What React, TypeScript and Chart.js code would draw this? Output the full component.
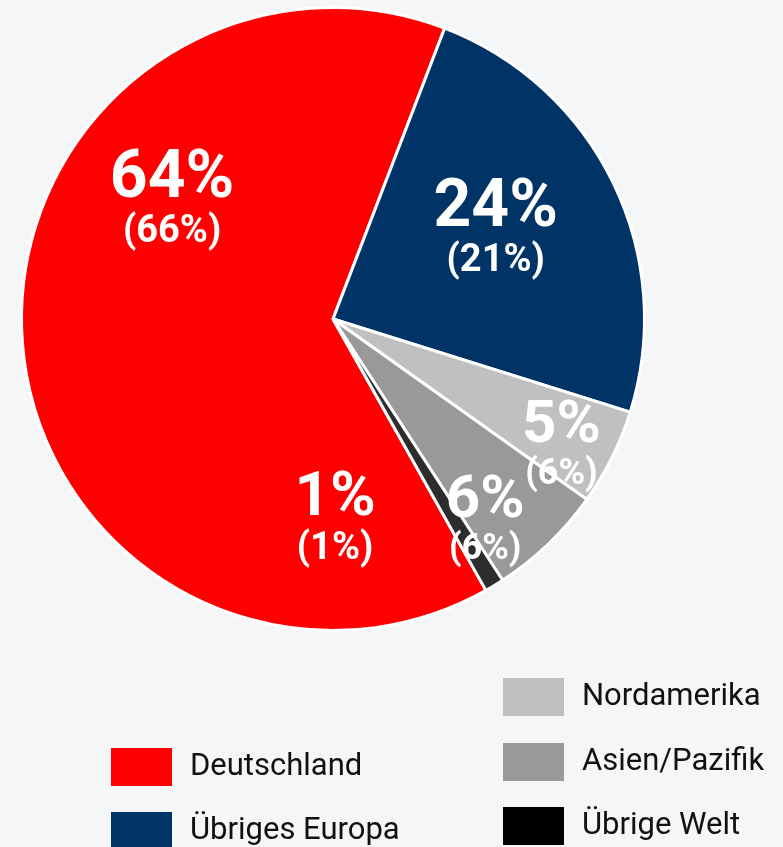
import React, { useEffect, useRef } from "react";
import { Chart, registerables } from "chart.js";

Chart.register(...registerables);

const categories = ["Deutschland", "Übriges Europa", "Nordamerika", "Asien/Pazifik", "Übrige Welt"];
const shares = [64, 24, 5, 6, 1];
const priorShares = [66, 21, 6, 6, 1];
const sliceColors = ["#ff0000", "#003466", "#c0c0c0", "#999999", "#2d2d2d"];
const legendColors = ["#ff0000", "#003466", "#c0c0c0", "#999999", "#000000"];

// label placement (clockwise degrees from 12 o'clock, fraction of radius)
const labelAngles = [306.2, 61.4, 118.8, 142.9, 179.4];
const labelRadii = [0.64, 0.595, 0.837, 0.81, 0.64];
const labelBigSizes = [66, 66, 60, 60, 62];
const labelSmallSizes = [38, 38, 36, 36, 38];

// legend layout
const legendLeft = [111, 111, 503, 503, 503];
const legendTop = [748, 812, 678, 743, 807];

const FONT = "Roboto, 'Open Sans', sans-serif";

const labelPlugin = {
  id: "sliceLabels",
  afterDatasetsDraw(chart: any) {
    const meta = chart.getDatasetMeta(0);
    const arc = meta.data[0];
    if (!arc) return;
    const { x, y, outerRadius } = arc.getProps(["x", "y", "outerRadius"], true);
    const ctx = chart.ctx;
    ctx.save();
    ctx.fillStyle = "#ffffff";
    ctx.textAlign = "center";
    ctx.textBaseline = "middle";
    shares.forEach((v, i) => {
      const a = (labelAngles[i] * Math.PI) / 180;
      const cx = x + Math.sin(a) * outerRadius * labelRadii[i];
      const cy = y - Math.cos(a) * outerRadius * labelRadii[i];
      const big = labelBigSizes[i];
      const small = labelSmallSizes[i];
      ctx.font = `bold ${big}px ${FONT}`;
      ctx.fillText(`${v}%`, cx, cy - big * 0.4 + 6);
      ctx.font = `bold ${small}px ${FONT}`;
      ctx.fillText(`(${priorShares[i]}%)`, cx, cy + small * 0.7 + 5);
    });
    ctx.restore();
  },
};

export default function App() {
  const ref = useRef<HTMLCanvasElement>(null);
  useEffect(() => {
    if (!ref.current) return;
    const chart = new Chart(ref.current, {
      type: "pie",
      data: {
        labels: categories,
        datasets: [
          {
            data: shares,
            backgroundColor: sliceColors,
            borderColor: "#ffffff",
            borderWidth: 3,
          },
        ],
      },
      options: {
        responsive: false,
        animation: false,
        rotation: 150.6,
        layout: { padding: { left: 0, right: 117, top: 6, bottom: 215 } },
        plugins: {
          legend: { display: false },
          tooltip: { enabled: false },
        },
      },
      plugins: [labelPlugin],
    });
    return () => chart.destroy();
  }, []);

  return (
    <div
      style={{
        position: "absolute",
        left: 0,
        top: 0,
        width: 783,
        height: 847,
        background: "#f5f6f8",
        overflow: "hidden",
      }}
    >
      <canvas ref={ref} width={783} height={847} style={{ position: "absolute", left: 0, top: 0 }} />
      {categories.map((c, i) => (
        <div
          key={c}
          style={{
            position: "absolute",
            left: legendLeft[i],
            top: legendTop[i],
            height: 38,
            display: "flex",
            alignItems: "center",
            whiteSpace: "nowrap",
          }}
        >
          <div style={{ width: 61, height: 38, background: legendColors[i] }} />
          <span
            style={{
              marginLeft: 18,
              marginTop: -4,
              fontFamily: FONT,
              fontSize: 31,
              color: "#111111",
              lineHeight: "38px",
            }}
          >
            {c}
          </span>
        </div>
      ))}
    </div>
  );
}
